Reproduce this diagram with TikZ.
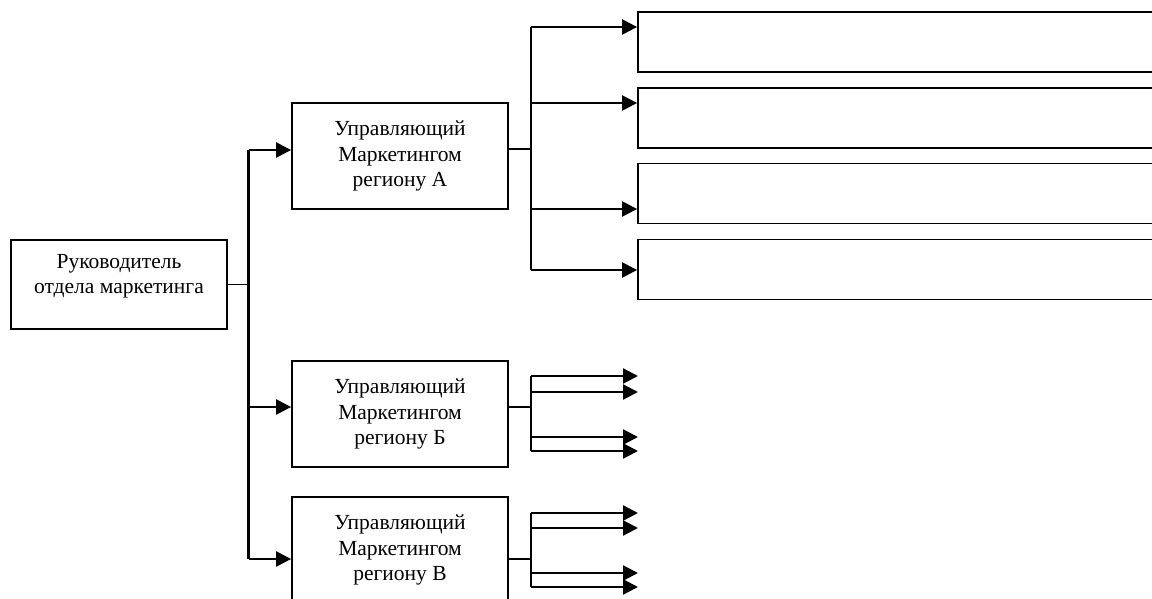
\documentclass[tikz,border=0pt]{standalone}
\usepackage{fontspec}
\setmainfont{Liberation Serif}
\usetikzlibrary{arrows.meta}

\tikzset{
  boxfont/.style={font=\fontsize{21.5}{25.5}\selectfont},
  box/.style={draw, line width=1.8pt, minimum width=216pt, minimum height=106pt,
    inner sep=0pt, align=center, boxfont},
  rootbox/.style={box, minimum height=89pt},
  leafbox/.style={draw, line width=1.8pt, minimum width=532pt, minimum height=60pt, inner sep=0pt},
  link/.style={line width=1.4pt},
  trunk/.style={line width=2.4pt},
  arr/.style={line width=2.4pt, -{Triangle[length=15pt,width=15pt]}},
}

\begin{document}
\begin{tikzpicture}[x=1pt, y=-1pt]
\useasboundingbox (0,0) rectangle (1152,599);
\clip (0,0) rectangle (1152,599);

% head of the department
\node[rootbox] (root) at (119,284.5) {};
\node[boxfont, align=center, inner sep=0pt] (roottext)
  at (119,276) {Руководитель\\отдела маркетинга};

% regional managers
\node[box] (ma) at (400,156) {Управляющий\\Маркетингом\\региону А};
\node[box] (mb) at (400,414) {Управляющий\\Маркетингом\\региону Б};
\node[box] (mv) at (400,550) {Управляющий\\Маркетингом\\региону В};

% empty boxes under region A
\node[leafbox] (a1) at (904,42) {};
\node[leafbox] (a2) at (904,118) {};
\node[leafbox] (a3) at (904,193.5) {};
\node[leafbox] (a4) at (904,269.5) {};

% main trunk
\coordinate (ta) at (248.5,150);
\coordinate (tb) at (248.5,407);
\coordinate (tv) at (248.5,559);
\draw[link] (root.east) -- (root.east -| ta);
\draw[trunk] (ta) -- (tv);
\draw[arr] (ta) -- (ta -| ma.west);
\draw[arr] (tb) -- (tb -| mb.west);
\draw[arr] (tv) -- (tv -| mv.west);

% region A branch
\coordinate (ba) at (531,149);
\coordinate (ba1) at (531,27);
\coordinate (ba2) at (531,103);
\coordinate (ba3) at (531,209);
\coordinate (ba4) at (531,270);
\draw[link] (ba -| ma.east) -- (ba);
\draw[trunk] (ba1) -- (ba4);
\draw[arr] (ba1) -- (ba1 -| a1.west);
\draw[arr] (ba2) -- (ba2 -| a2.west);
\draw[arr] (ba3) -- (ba3 -| a3.west);
\draw[arr] (ba4) -- (ba4 -| a4.west);

% region B branch
\coordinate (bb) at (531,407);
\coordinate (bb1) at (531,376);
\coordinate (bb2) at (531,392);
\coordinate (bb3) at (531,437);
\coordinate (bb4) at (531,451);
\coordinate (eb1) at (638,376);
\coordinate (eb2) at (638,392);
\coordinate (eb3) at (638,437);
\coordinate (eb4) at (638,451);
\draw[link] (bb -| mb.east) -- (bb);
\draw[trunk] (bb1) -- (bb4);
\draw[arr] (bb1) -- (eb1);
\draw[arr] (bb2) -- (eb2);
\draw[arr] (bb3) -- (eb3);
\draw[arr] (bb4) -- (eb4);

% region V branch
\coordinate (bv) at (531,559);
\coordinate (bv1) at (531,513);
\coordinate (bv2) at (531,528);
\coordinate (bv3) at (531,573);
\coordinate (bv4) at (531,587);
\coordinate (ev1) at (638,513);
\coordinate (ev2) at (638,528);
\coordinate (ev3) at (638,573);
\coordinate (ev4) at (638,587);
\draw[link] (bv -| mv.east) -- (bv);
\draw[trunk] (bv1) -- (bv4);
\draw[arr] (bv1) -- (ev1);
\draw[arr] (bv2) -- (ev2);
\draw[arr] (bv3) -- (ev3);
\draw[arr] (bv4) -- (ev4);
\end{tikzpicture}
\end{document}
